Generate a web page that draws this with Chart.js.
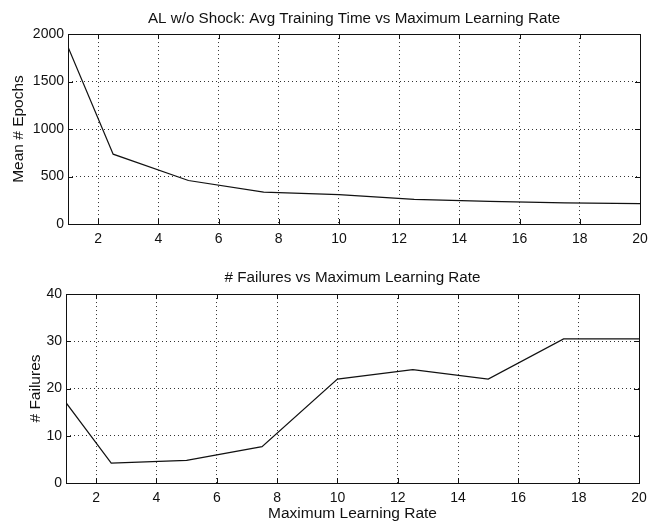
<!DOCTYPE html>
<html>
<head>
<meta charset="utf-8">
<script src="https://cdn.jsdelivr.net/npm/chart.js@4/dist/chart.umd.min.js"></script>
<style>
  html, body { margin: 0; padding: 0; background: #fff; }
  #wrap { position: relative; width: 660px; height: 523px; }
</style>
</head>
<body>
<div id="wrap">
  <div style="position:absolute;left:0;top:0;width:660px;height:250px"><canvas id="c1"></canvas></div>
  <div style="position:absolute;left:0;top:250px;width:660px;height:273px"><canvas id="c2"></canvas></div>
</div>
<script>
// ---- data ----
const learningRates = [1, 2.5, 5, 7.5, 10, 12.5, 15, 17.5, 20];
const meanEpochs    = [1865, 735, 458, 335, 310, 260, 238, 222, 215];
const failures      = [17, 4.2, 4.8, 7.7, 22, 24, 22, 30.5, 30.5];
const xTickValues       = [2, 4, 6, 8, 10, 12, 14, 16, 18, 20];
const epochTickValues   = [0, 500, 1000, 1500, 2000];
const failureTickValues = [0, 10, 20, 30, 40];

const topTitle = 'AL w/o Shock: Avg Training Time vs Maximum Learning Rate';
const bottomTitle = '# Failures vs Maximum Learning Rate';
const xTitle = 'Maximum Learning Rate';
const topYTitle = 'Mean # Epochs';
const bottomYTitle = '# Failures';

const FONT = '"Liberation Sans", Arial, Helvetica, sans-serif';
const INK = '#111';
const TITLE_SIZE = 15.2;
const LABEL_SIZE = 15.5;
const TICK_SIZE = 14;
Chart.defaults.font.family = FONT;
Chart.defaults.color = INK;
Chart.defaults.animation = false;

const boxTicks = {
  id: 'boxTicks',
  afterDraw(chart) {
    const {ctx, chartArea: a, scales: {x, y}} = chart;
    const L = 5;
    ctx.save();
    ctx.strokeStyle = INK;
    ctx.lineWidth = 1;
    ctx.beginPath();
    x.ticks.forEach(t => {
      const px = Math.round(x.getPixelForValue(t.value)) + 0.5;
      ctx.moveTo(px, a.bottom); ctx.lineTo(px, a.bottom - L);
      ctx.moveTo(px, a.top); ctx.lineTo(px, a.top + L);
    });
    y.ticks.forEach(t => {
      const py = Math.round(y.getPixelForValue(t.value)) + 0.5;
      ctx.moveTo(a.left, py); ctx.lineTo(a.left + L, py);
      ctx.moveTo(a.right, py); ctx.lineTo(a.right - L, py);
    });
    ctx.stroke();
    ctx.strokeRect(Math.round(a.left) + 0.5, Math.round(a.top) + 0.5,
                   Math.round(a.right - a.left), Math.round(a.bottom - a.top));
    ctx.restore();
  }
};

function makeChart(canvasId, cfg) {
  const tickArr = vals => scale => { scale.ticks = vals.map(v => ({value: v})); };
  const plain = v => String(v);
  return new Chart(document.getElementById(canvasId), {
    type: 'line',
    data: {
      datasets: [{
        data: learningRates.map((v, i) => ({x: v, y: cfg.values[i]})),
        borderColor: INK,
        borderWidth: 1.2,
        pointRadius: 0,
        tension: 0,
        fill: false
      }]
    },
    options: {
      responsive: true,
      maintainAspectRatio: false,
      layout: { padding: { left: 0, right: cfg.padRight, top: 0, bottom: 0 } },
      plugins: {
        legend: { display: false },
        tooltip: { enabled: false },
        title: {
          display: true,
          fullSize: false,
          text: cfg.title,
          color: INK,
          font: { size: TITLE_SIZE, weight: 'normal', family: FONT, lineHeight: 1.2 },
          padding: { top: cfg.titlePadTop, bottom: cfg.titlePadBottom }
        }
      },
      scales: {
        x: {
          type: 'linear',
          min: 1, max: 20,
          afterBuildTicks: tickArr(xTickValues),
          afterFit: s => { s.height = cfg.xHeight; },
          grid: { color: '#333', lineWidth: 1, drawTicks: false },
          border: { display: false, dash: [1, 3] },
          ticks: { padding: cfg.xTickPad, font: { size: TICK_SIZE }, color: INK, maxRotation: 0, autoSkip: false, callback: plain },
          title: cfg.xTitle ? {
            display: true, text: cfg.xTitle, color: INK,
            font: { size: LABEL_SIZE, family: FONT, lineHeight: 1.2 }, padding: { top: 0, bottom: cfg.xTitlePadBottom }
          } : { display: false }
        },
        y: {
          type: 'linear',
          min: cfg.yMin, max: cfg.yMax,
          afterBuildTicks: tickArr(cfg.yTicks),
          afterFit: s => { s.width = cfg.yWidth; },
          grid: { color: '#333', lineWidth: 1, drawTicks: false },
          border: { display: false, dash: [1, 3] },
          ticks: { padding: 4, font: { size: TICK_SIZE }, color: INK, autoSkip: false, callback: plain },
          title: {
            display: true, text: cfg.yTitle, color: INK,
            font: { size: LABEL_SIZE, family: FONT, lineHeight: 1.2 }, padding: { top: cfg.yTitlePadTop, bottom: 0 }
          }
        }
      }
    },
    plugins: [boxTicks]
  });
}

makeChart('c1', {
  values: meanEpochs, title: topTitle, yTitle: topYTitle,
  yMin: 0, yMax: 2000, yTicks: epochTickValues,
  padRight: 20, titlePadTop: 9.9, titlePadBottom: 5.9,
  xHeight: 26, xTickPad: 7, yWidth: 68, yTitlePadTop: 9.7
});

makeChart('c2', {
  values: failures, title: bottomTitle, yTitle: bottomYTitle,
  yMin: 0, yMax: 40, yTicks: failureTickValues,
  padRight: 21, titlePadTop: 18.9, titlePadBottom: 6.9,
  xHeight: 40, xTickPad: 7, yWidth: 66, yTitlePadTop: 26.7,
  xTitle: xTitle, xTitlePadBottom: -0.3
});
</script>
</body>
</html>
